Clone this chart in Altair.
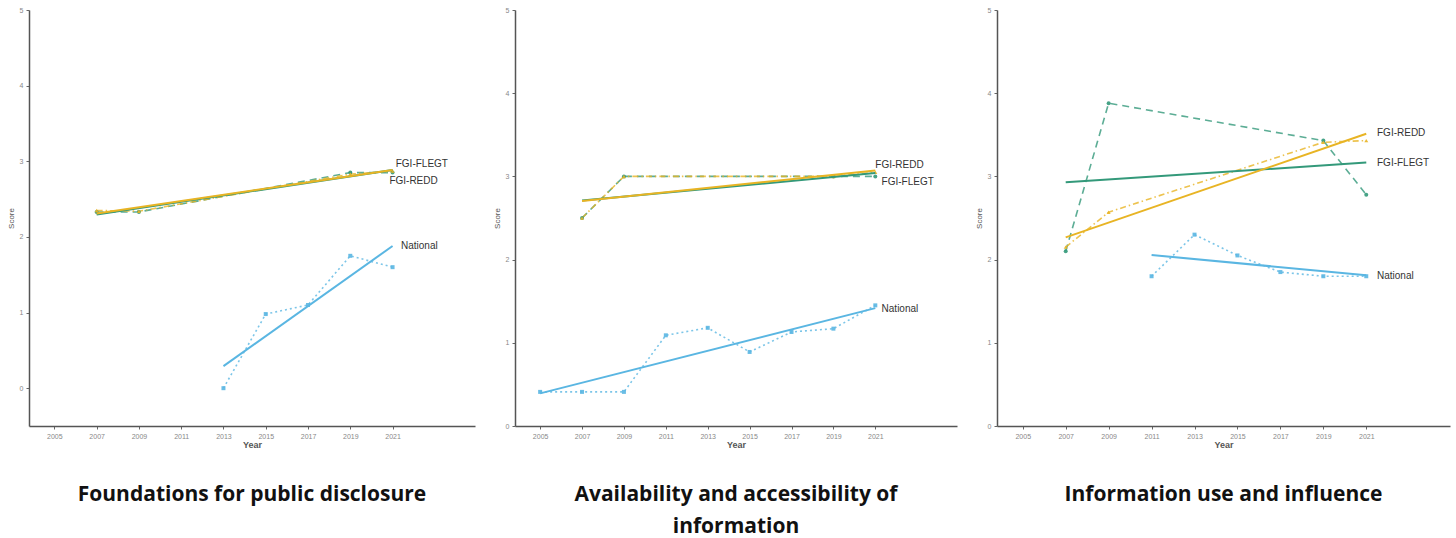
import altair as alt
import pandas as pd

# ---------------- data ----------------
series_names = ["FGI-FLEGT", "FGI-REDD", "National"]
series_colors = ["#33997A", "#E8B424", "#5AB6E2"]

fgi_years = [2007, 2009, 2019, 2021]

# Panel 1: Foundations for public disclosure
p1_flegt = [2.33, 2.33, 2.85, 2.85]
p1_redd = [2.35, 2.34, 2.83, 2.87]
p1_nat_years = [2013, 2015, 2017, 2019, 2021]
p1_nat = [0.0, 0.98, 1.10, 1.75, 1.60]

# Panel 2: Availability and accessibility of information
p2_flegt = [2.50, 3.00, 3.00, 3.00]
p2_redd = [2.50, 3.00, 3.00, 3.05]
p2_nat_years = [2005, 2007, 2009, 2011, 2013, 2015, 2017, 2019, 2021]
p2_nat = [0.41, 0.41, 0.41, 1.09, 1.18, 0.89, 1.13, 1.17, 1.45]

# Panel 3: Information use and influence
p3_flegt = [2.10, 3.88, 3.43, 2.78]
p3_redd = [2.15, 2.57, 3.41, 3.43]
p3_nat_years = [2011, 2013, 2015, 2017, 2019, 2021]
p3_nat = [1.80, 2.30, 2.05, 1.85, 1.80, 1.80]

# series end labels (year, score) per panel
p1_label_names = ["FGI-FLEGT", "FGI-REDD", "National"]
p1_label_year = [2021.15, 2020.85, 2021.4]
p1_label_score = [2.97, 2.74, 1.88]
p2_label_names = ["FGI-REDD", "FGI-FLEGT", "National"]
p2_label_year = [2021.0, 2021.3, 2021.3]
p2_label_score = [3.14, 2.93, 1.41]
p3_label_names = ["FGI-REDD", "FGI-FLEGT", "National"]
p3_label_year = [2021.5, 2021.5, 2021.5]
p3_label_score = [3.52, 3.16, 1.80]

tick_years = [2005, 2007, 2009, 2011, 2013, 2015, 2017, 2019, 2021]
score_ticks = [0, 1, 2, 3, 4, 5]

titles = [
    "Foundations for public disclosure",
    ["Availability and accessibility of", "information"],
    "Information use and influence",
]


def make_df(flegt, redd, nat_years, nat):
    rows = []
    for y, v in zip(fgi_years, flegt):
        rows.append({"series": "FGI-FLEGT", "year": y, "score": v})
    for y, v in zip(fgi_years, redd):
        rows.append({"series": "FGI-REDD", "year": y, "score": v})
    for y, v in zip(nat_years, nat):
        rows.append({"series": "National", "year": y, "score": v})
    return pd.DataFrame(rows)


def make_labels(names, yrs, scores):
    return pd.DataFrame({"label": names, "year": yrs, "score": scores})


def panel(df, labels, ydomain, width, title):
    x = alt.X(
        "year:Q",
        scale=alt.Scale(domain=[2003.8, 2024.9], nice=False, zero=False),
        axis=alt.Axis(values=tick_years, format="d", title="Year", grid=False,
                      labelFontSize=7, labelColor="#888", titleFontSize=9,
                      titleColor="#555", titleFontWeight="bold", tickSize=3,
                      tickColor="#666", domainColor="#555", domainWidth=1.5,
                      labelPadding=3, titlePadding=1, titleFont="Liberation Sans",
                      labelFont="Liberation Sans"),
    )
    y = alt.Y(
        "score:Q",
        scale=alt.Scale(domain=ydomain, nice=False, zero=False),
        axis=alt.Axis(values=score_ticks, format="d", title="Score", grid=False,
                      labelFontSize=7, labelColor="#888", titleFontSize=8,
                      titleColor="#555", titleFontWeight="normal", tickSize=3,
                      tickColor="#666", domainColor="#555", domainWidth=1.5,
                      labelPadding=3, titlePadding=4, titleFont="Liberation Sans",
                      labelFont="Liberation Sans"),
    )
    color = alt.Color("series:N", scale=alt.Scale(domain=series_names, range=series_colors), legend=None)
    dash = alt.StrokeDash(
        "series:N",
        scale=alt.Scale(domain=series_names, range=[[7, 5], [6, 3, 1.5, 3], [2, 3]]),
        legend=None,
    )
    shape = alt.Shape(
        "series:N",
        scale=alt.Scale(domain=series_names, range=["circle", "triangle-up", "square"]),
        legend=None,
    )
    base = alt.Chart(df)
    data_lines = base.mark_line(strokeWidth=1.6, opacity=0.8).encode(x=x, y=y, color=color, strokeDash=dash)
    points = base.mark_point(filled=True, size=16, opacity=0.9).encode(x=x, y=y, color=color, shape=shape)
    trend = (
        base.transform_regression("year", "score", groupby=["series"])
        .mark_line(strokeWidth=2)
        .encode(x=x, y=y, color=color)
    )
    text = alt.Chart(labels).mark_text(
        align="left", baseline="middle", fontSize=10, font="Liberation Sans", color="#333"
    ).encode(x="year:Q", y="score:Q", text="label:N")
    return alt.layer(data_lines, points, trend, text).properties(
        width=width,
        height=416,
        view=alt.ViewBackground(stroke="transparent", strokeWidth=0),
        title=alt.TitleParams(
            title, orient="bottom", anchor="middle", fontSize=21, font="Open Sans",
            fontWeight="bold", color="#111", offset=35, lineHeight=32,
        ),
    )


c1 = panel(make_df(p1_flegt, p1_redd, p1_nat_years, p1_nat),
           make_labels(p1_label_names, p1_label_year, p1_label_score), [-0.5, 5], 446, titles[0])
c2 = panel(make_df(p2_flegt, p2_redd, p2_nat_years, p2_nat),
           make_labels(p2_label_names, p2_label_year, p2_label_score), [0, 5], 442, titles[1])
c3 = panel(make_df(p3_flegt, p3_redd, p3_nat_years, p3_nat),
           make_labels(p3_label_names, p3_label_year, p3_label_score), [0, 5], 453, titles[2])

chart = (
    alt.hconcat(c1, c2, c3, spacing=18)
    .properties(padding={"left": 7, "top": 6, "right": 2, "bottom": 8})
    .configure_view(strokeWidth=0, stroke="transparent")
    .configure(background="white")
)

chart.save("out.html", embed_options={"renderer": "svg", "actions": False})
